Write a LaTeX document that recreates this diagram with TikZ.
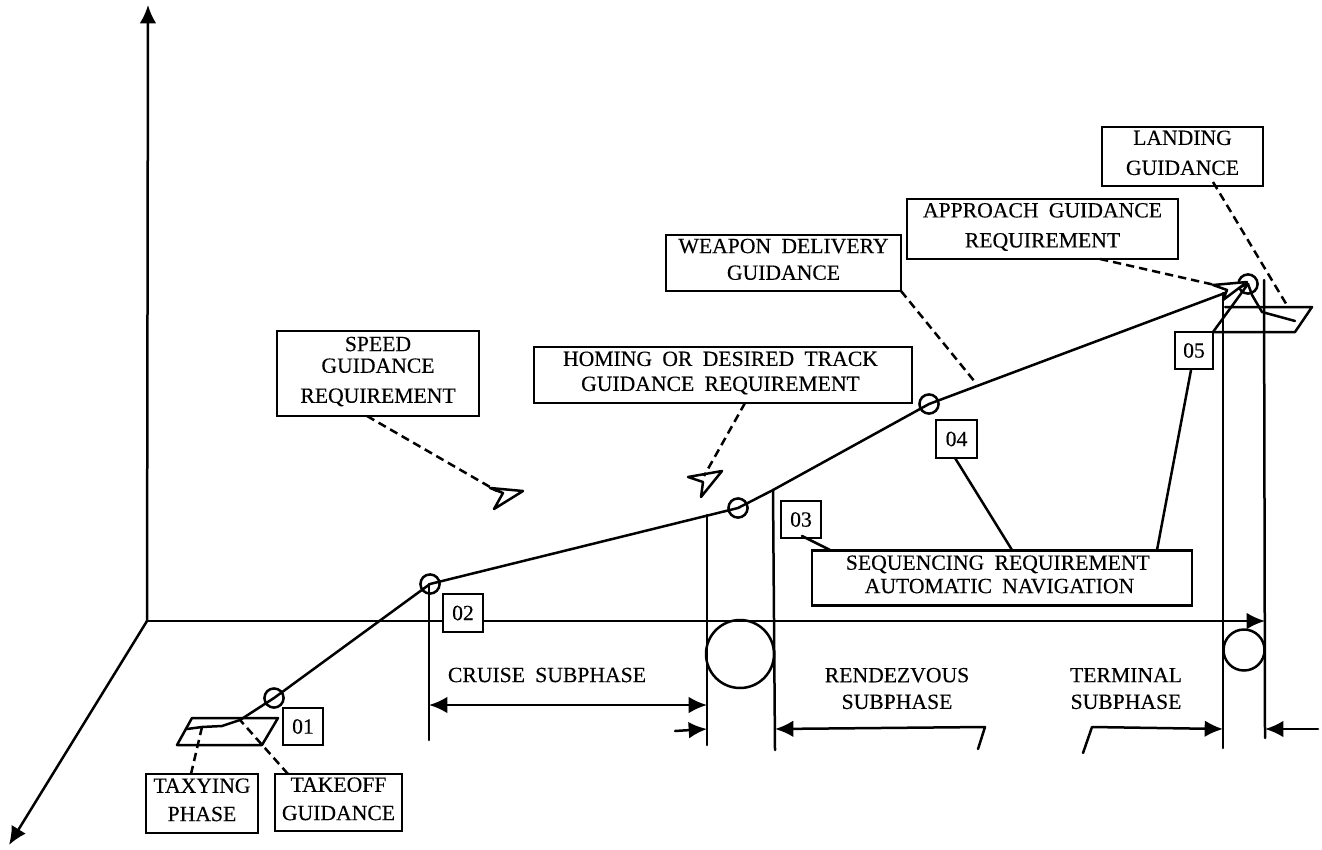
\documentclass[tikz,border=0pt]{standalone}
\usepackage{fontspec}
\setmainfont{Liberation Serif}[FakeBold=0.25,WordSpace=1.9]
\usetikzlibrary{arrows.meta}
\newcommand{\dn}{\rule[-4.5pt]{0pt}{0pt}}
\tikzset{
  x=0.6pt,y=-0.6pt,
  ln/.style={line width=1.5pt,line cap=round,line join=round},
  dsh/.style={line width=1.5pt,dash pattern=on 5pt off 3pt},
  arr/.style={ln,-{Latex[length=11pt,width=10pt]}},
  barr/.style={ln,{Latex[length=11pt,width=10pt]}-{Latex[length=11pt,width=10pt]}},
  box/.style={draw,fill=white,line width=1.5pt,inner sep=0pt,align=center,font=\fontsize{13}{16}\selectfont},
  txt/.style={inner sep=0pt,align=center,font=\fontsize{13}{16}\selectfont},
  wp/.style={circle,draw,line width=1.5pt,inner sep=0pt,minimum size=11.5pt},
  big/.style={circle,draw,line width=1.5pt,inner sep=0pt},
  plane/.style={ln,fill=white}
}
\begin{document}
\begin{tikzpicture}
\useasboundingbox[fill=white] (0,0) rectangle (1322,849);
% axes
\coordinate (O) at (147,621);
\coordinate (Ytip) at (148,5);
\coordinate (Ztip) at (9,845);
\coordinate (Xtip) at (1265,621);
\draw[arr] (O) -- (Ytip);
\draw[arr] (O) -- (Ztip);
\draw[arr] (O) -- (Xtip);
% waypoints
\node[wp] (wp1) at (274,698) {};
\node[wp] (wp2) at (430,584) {};
\node[wp] (wp3) at (738,508) {};
\node[wp] (wp4) at (929,404) {};
\node[wp] (wp5) at (1248,284) {};
% phase verticals
\coordinate (v1t) at (429,584); \coordinate (v1b) at (429,740);
\coordinate (v2t) at (707,515); \coordinate (v2b) at (707,745);
\coordinate (v3t) at (773,490); \coordinate (v3b) at (775,750);
\coordinate (v4t) at (1223,293); \coordinate (v4b) at (1223,748);
\coordinate (v5t) at (1264,280); \coordinate (v5b) at (1265,738);
\draw[ln] (v1t) -- (v1b);
\draw[ln] (v2t) -- (v2b);
\draw[ln] (v3t) -- (v3b);
\draw[ln] (v4t) -- (v4b);
\draw[ln] (v5t) -- (v5b);
\node[big,minimum size=40.8pt] (c1) at (740,654) {};
\node[big,minimum size=24.6pt] (c2) at (1244,650) {};
% runways
\draw[ln] (192,718) -- (278,718) -- (262,745) -- (177,745) -- cycle;
\draw[ln] (1225,307) -- (1312,307) -- (1295,332) -- (1213,332);
% flight path
\coordinate (t1) at (187,729); \coordinate (t2) at (202,727); \coordinate (t3) at (222,726); \coordinate (t4) at (240,720);
\coordinate (pl) at (1225,293);
\draw[ln] (t1) -- (t2) -- (t3) -- (t4) -- (wp1.center) -- (wp2.center) -- (wp3.center) -- (v3t) -- (wp4.center) -- (pl) -- (wp5.center);
\coordinate (d1) at (1252,295); \coordinate (d2) at (1262,312); \coordinate (d3) at (1295,321);
\draw[ln] (wp5.center) -- (d1) -- (d2) -- (d3);
% aircraft
\coordinate (ps) at (497,491);
\coordinate (ph) at (704,476);
\coordinate (pa) at (1215,285);
\draw[plane] (490,488) -- (523,491) -- (494,509) -- (503,493) -- cycle;
\draw[plane] (688,477) -- (722,471) -- (701,497) -- (703,482) -- cycle;
\draw[plane] (1213,285) -- (1247,282) -- (1223,300) -- (1227,290) -- cycle;
% boxes
\node[box,minimum width=121.2pt,minimum height=51pt] (speed) at (378,373.5) {SPEED\\[-3pt]GUIDANCE\\[2pt]REQUIREMENT\dn};
\node[box,minimum width=226.8pt,minimum height=33.6pt] (homing) at (723,375) {HOMING OR DESIRED TRACK\hspace*{3pt}\\[-1pt]GUIDANCE REQUIREMENT\hspace*{3pt}\dn};
\node[box,minimum width=141pt,minimum height=33.6pt] (weapon) at (783.5,263) {WEAPON DELIVERY\\GUIDANCE\dn};
\node[box,minimum width=162.6pt,minimum height=36pt] (approach) at (1042.5,229) {APPROACH GUIDANCE\\[2pt]REQUIREMENT\dn};
\node[box,minimum width=96.6pt,minimum height=35.4pt] (landing) at (1182.5,156.5) {LANDING\\[2pt]GUIDANCE\dn};
\node[box,minimum width=67.2pt,minimum height=35.4pt] (taxi) at (202,803.5) {TAXYING\\[1pt]PHASE\dn};
\node[box,minimum width=76.2pt,minimum height=34.2pt] (takeoff) at (338.5,802.5) {TAKEOFF\\[1pt]GUIDANCE\dn};
\node[box,minimum width=228pt,minimum height=33pt] (seq) at (1002,578) {SEQUENCING REQUIREMENT\hspace*{5pt}\\[-2pt]AUTOMATIC NAVIGATION\hspace*{3pt}\dn};
\node[box,minimum width=24pt,minimum height=22.2pt] (n1) at (303,726.5) {01};
\node[box,minimum width=24pt,minimum height=22.8pt] (n2) at (463,613) {02};
\node[box,minimum width=24pt,minimum height=22.2pt] (n3) at (801,519.5) {03};
\node[box,minimum width=24.6pt,minimum height=22.8pt] (n4) at (956.5,439) {04};
\node[box,minimum width=22.8pt,minimum height=22.2pt] (n5) at (1194,350.5) {05};
% dashed leaders
\coordinate (speedout) at (367,416);
\coordinate (homingout) at (745,403);
\coordinate (weaponout) at (901,291);
\coordinate (weaponin) at (975,382);
\coordinate (approachout) at (1100,259);
\coordinate (landingout) at (1213,182);
\coordinate (landingin) at (1288,307);
\coordinate (taxiout) at (191,774);
\coordinate (takeoffout) at (288,774);
\draw[dsh] (speedout) -- (ps);
\draw[dsh] (homingout) -- (ph);
\draw[dsh] (weaponout) -- (weaponin);
\draw[dsh] (approachout) -- (pa);
\draw[dsh] (landingout) -- (landingin);
\draw[dsh] (taxiout) -- (t2);
\draw[dsh] (takeoffout) -- (t4);
% solid leaders to the sequencing box
\coordinate (n3o) at (802,536); \coordinate (s3) at (830,550);
\coordinate (n4o) at (955,458); \coordinate (s4) at (1012,550);
\coordinate (n5o) at (1191,370); \coordinate (s5) at (1157,550);
\coordinate (n5c) at (1213,332);
\draw[ln] (n3o) -- (s3);
\draw[ln] (n4o) -- (s4);
\draw[ln] (n5o) -- (s5);
\draw[ln] (n5c) -- (wp5.center);
% subphase labels
\node[txt] (cruise) at (547,675) {CRUISE SUBPHASE};
\node[txt] (rendez) at (897,688.5) {RENDEZVOUS\\SUBPHASE};
\node[txt] (term) at (1126,688.5) {TERMINAL\\SUBPHASE};
% dimension arrows
\coordinate (ca) at (429,705); \coordinate (cb) at (707,705);
\draw[barr] (ca) -- (cb);
\coordinate (sa) at (675,731); \coordinate (sb) at (707,729);
\draw[arr] (sa) -- (sb);
\coordinate (ra) at (985,727); \coordinate (rb) at (775,729); \coordinate (rc) at (978,749);
\draw[arr] (rc) -- (ra) -- (rb);
\coordinate (ta) at (1083,753); \coordinate (tb) at (1092,727); \coordinate (tc) at (1223,729);
\draw[arr] (ta) -- (tb) -- (tc);
\coordinate (ea) at (1318,729); \coordinate (eb) at (1265,729);
\draw[arr] (ea) -- (eb);
\end{tikzpicture}
\end{document}
